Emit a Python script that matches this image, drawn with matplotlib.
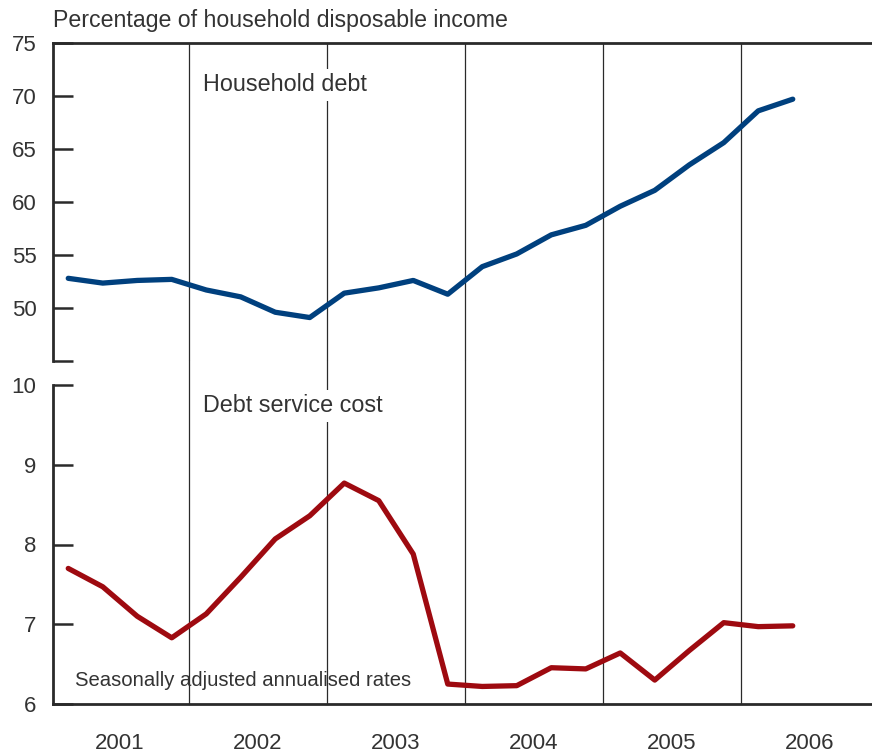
import matplotlib
matplotlib.use("Agg")
import matplotlib.pyplot as plt
import numpy as np

plt.rcParams['font.family'] = ['Liberation Sans', 'DejaVu Sans']

quarters = np.arange(2001.125, 2006.5, 0.25)  # 2001Q1 .. 2006Q2 (centres)
household_debt = [52.8, 52.35, 52.6, 52.7, 51.7, 51.05, 49.6, 49.1, 51.4, 51.9, 52.6,
                  51.3, 53.9, 55.1, 56.9, 57.8, 59.6, 61.1, 63.5, 65.6, 68.6, 69.7]
debt_service = [7.70, 7.47, 7.10, 6.83, 7.13, 7.59, 8.07, 8.36, 8.77, 8.55, 7.88,
                6.25, 6.22, 6.23, 6.455, 6.44, 6.64, 6.30, 6.67, 7.02, 6.97, 6.98]
years = [2001, 2002, 2003, 2004, 2005, 2006]
year_bounds = [2002, 2003, 2004, 2005, 2006]
top_ticks = [45, 50, 55, 60, 65, 70, 75]
top_labels = ['', '50', '55', '60', '65', '70', '75']
bot_ticks = [6, 7, 8, 9, 10]

BLUE = '#00407E'
RED = '#9E0A10'
TXT = '#333333'
AX = '#2a2a2a'

W, H = 872, 754
fig = plt.figure(figsize=(W / 100, H / 100), dpi=100)

left = 53 / W
width = (W - 53) / W
ax1 = fig.add_axes([left, (H - 361) / H, width, 318 / H])
ax2 = fig.add_axes([left, (H - 704) / H, width, 319 / H])

PX = 138.0  # pixels per year
x0 = 2001.0 + 2 / PX
xlim = (x0, x0 + (W - 53) / PX)
for ax in (ax1, ax2):
    ax.set_xlim(*xlim)
    ax.spines['right'].set_visible(False)
    for s in ax.spines.values():
        s.set_color(AX)
        s.set_linewidth(2.0)
    ax.tick_params(axis='y', direction='in', length=14.5, width=1.8, color=AX,
                   labelsize=16, labelcolor=TXT, pad=12)
    ax.set_facecolor('none')

ax1.spines['bottom'].set_visible(False)
ax2.spines['top'].set_visible(False)

ax1.plot(quarters, household_debt, color=BLUE, lw=3.8, solid_capstyle='round', zorder=3)
ax2.plot(quarters, debt_service, color=RED, lw=3.8, solid_capstyle='round', zorder=3)

ax1.set_ylim(45, 75)
ax1.set_yticks(top_ticks)
ax1.set_yticklabels(top_labels)
ax1.set_xticks([])

ax2.set_ylim(6, 10)
ax2.set_yticks(bot_ticks)
ax2.set_yticklabels([str(t) for t in bot_ticks])
ax2.set_xticks([y + 0.5 for y in years])
ax2.set_xticklabels([str(y) for y in years])
ax2.tick_params(axis='x', length=0, labelsize=16, labelcolor=TXT, pad=21)

gap = 24 / 319
for b in year_bounds:
    ax1.axvline(b, color=AX, lw=0.9, zorder=1)
    ax2.axvline(b, ymin=0, ymax=1 + gap, color=AX, lw=0.9, zorder=1, clip_on=False)

def xpx(p):
    return x0 + (p - 53) / PX

ax1.text(xpx(203), 75 - (85 - 43) / 10.63, 'Household debt', fontsize=16.8, color=TXT,
         va='center', ha='left', zorder=5,
         bbox=dict(facecolor='white', edgecolor='none', pad=3))
ax2.text(xpx(203), 10 - (406 - 385) / 79.75, 'Debt service cost', fontsize=16.8,
         color=TXT, va='center', ha='left', zorder=5,
         bbox=dict(facecolor='white', edgecolor='none', pad=3))
ax2.text(xpx(75), 10 - (680 - 385) / 79.75, 'Seasonally adjusted annualised rates',
         fontsize=14.6, color=TXT, va='center', ha='left', zorder=5)

fig.text(53 / W, 1 - 20 / H, 'Percentage of household disposable income', fontsize=16.7,
         color=TXT, va='center', ha='left')

fig.savefig('out.png', dpi=100)
